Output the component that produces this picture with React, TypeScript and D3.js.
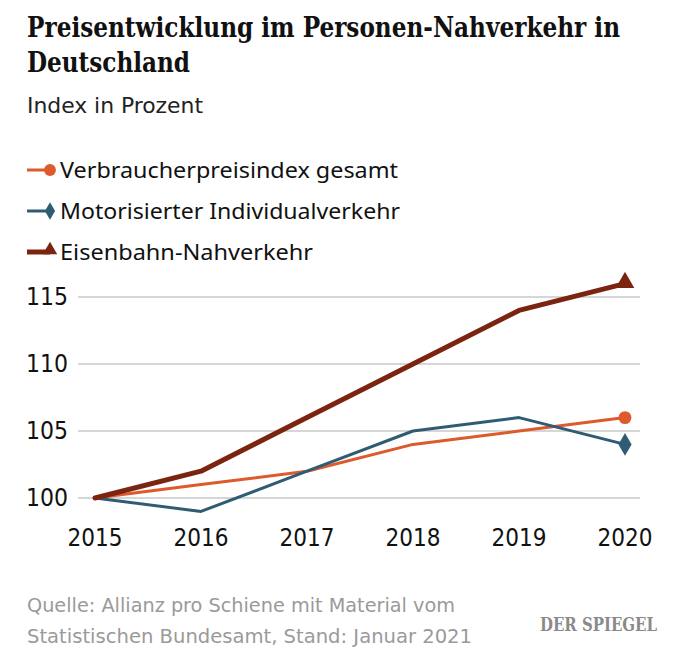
import React from 'react';
import * as d3 from 'd3';

const years = ['2015', '2016', '2017', '2018', '2019', '2020'];
const verbraucherpreise = [100, 101, 102, 104, 105, 106];
const individualverkehr = [100, 99, 102, 105, 106, 104];
const eisenbahn = [100, 102, 106, 110, 114, 116];
const yTicks = [100, 105, 110, 115];

const series = [
  { name: 'Verbraucherpreisindex gesamt', values: verbraucherpreise, color: '#dc5a2c', width: 3, marker: 'circle', len: 338 },
  { name: 'Motorisierter Individualverkehr', values: individualverkehr, color: '#2f5b73', width: 3, marker: 'diamond', len: 340 },
  { name: 'Eisenbahn-Nahverkehr', values: eisenbahn, color: '#7b2511', width: 5, marker: 'triangle', len: 253 },
];

const W = 680;
const H = 668;
const sans = "'Noto Sans', 'Open Sans', sans-serif";
const narrow = "'DejaVu Sans Condensed', Roboto, sans-serif";
const slab = "'DejaVu Serif Condensed', 'DejaVu Serif', serif";

const x = d3.scalePoint<string>().domain(years).range([95, 625]);
const y = d3.scaleLinear().domain([100, 115]).range([498, 297]);

const symbolFor = (m: string, size: number) => {
  const type = m === 'circle' ? d3.symbolCircle : m === 'diamond' ? d3.symbolDiamond : d3.symbolTriangle;
  return d3.symbol().type(type).size(size)() as string;
};

export default function App() {
  const line = d3.line<number>()
    .x((_, i) => x(years[i]) as number)
    .y(d => y(d));

  return (
    <svg width={W} height={H} style={{ display: 'block', margin: '-8px', background: '#fff' }}>
      <text x={27} y={37} fontFamily={slab} fontWeight="bold" fontSize={27} fill="#111"
        textLength={593} lengthAdjust="spacingAndGlyphs">
        Preisentwicklung im Personen-Nahverkehr in
      </text>
      <text x={27} y={72} fontFamily={slab} fontWeight="bold" fontSize={27} fill="#111"
        textLength={163} lengthAdjust="spacingAndGlyphs">
        Deutschland
      </text>
      <text x={27} y={113} fontFamily={narrow} fontSize={22} fill="#222"
        textLength={176} lengthAdjust="spacingAndGlyphs">Index in Prozent</text>

      {series.map((s, i) => {
        const ly = 170 + i * 41;
        return (
          <g key={s.name}>
            <line x1={27} x2={50} y1={ly} y2={ly} stroke={s.color} strokeWidth={s.width} />
            <path d={symbolFor(s.marker, s.marker === 'circle' ? 110 : 90)}
              transform={`translate(50,${s.marker === 'triangle' ? ly - 2 : ly})`} fill={s.color} />
            <text x={60} y={ly + 8} fontFamily={sans} fontSize={22.5} fill="#111"
              textLength={s.len} lengthAdjust="spacingAndGlyphs">{s.name}</text>
          </g>
        );
      })}

      {yTicks.map(t => (
        <g key={t}>
          <line x1={78} x2={640} y1={y(t)} y2={y(t)} stroke="#c9c9c9" strokeWidth={1.5} />
          <text x={68} y={y(t) + 8} textAnchor="end" fontFamily={narrow} fontSize={24} fill="#111"
            textLength={42} lengthAdjust="spacingAndGlyphs">{t}</text>
        </g>
      ))}

      {years.map(yr => (
        <text key={yr} x={x(yr)} y={546} textAnchor="middle" fontFamily={narrow} fontSize={24} fill="#111"
          textLength={55} lengthAdjust="spacingAndGlyphs">{yr}</text>
      ))}

      {series.map(s => {
        const last = s.values.length - 1;
        const px = x(years[last]) as number;
        const py = y(s.values[last]);
        return (
          <g key={s.name}>
            <path d={line(s.values) as string} fill="none" stroke={s.color} strokeWidth={s.width}
              strokeLinejoin="round" strokeLinecap="round" />
            <path d={symbolFor(s.marker, s.marker === 'circle' ? 130 : 150)}
              transform={`translate(${px},${s.marker === 'triangle' ? py - 1 : py})`} fill={s.color} />
          </g>
        );
      })}

      <text x={27} y={612} fontFamily={narrow} fontSize={20} fill="#9a9a9a"
        textLength={428} lengthAdjust="spacingAndGlyphs">
        Quelle: Allianz pro Schiene mit Material vom
      </text>
      <text x={27} y={643} fontFamily={narrow} fontSize={20} fill="#9a9a9a"
        textLength={445} lengthAdjust="spacingAndGlyphs">
        Statistischen Bundesamt, Stand: Januar 2021
      </text>
      <text x={540} y={631} fontFamily={slab} fontWeight="bold" fontSize={18} fill="#8a8a8a"
        textLength={117} lengthAdjust="spacingAndGlyphs">
        DER SPIEGEL
      </text>
    </svg>
  );
}
